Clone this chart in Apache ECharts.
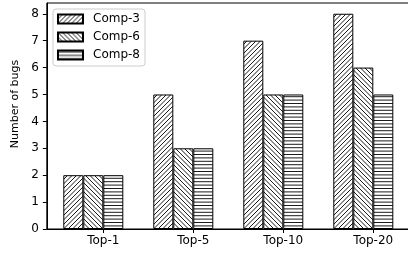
<!DOCTYPE html>
<html>
<head>
<meta charset="utf-8">
<script src="https://cdn.jsdelivr.net/npm/echarts@6/dist/echarts.min.js"></script>
<style>
html,body{margin:0;padding:0;background:#fff;}
#chart{width:408px;height:253px;}
</style>
</head>
<body>
<div id="chart"></div>
<script>
// Data
const categories = ['Top-1', 'Top-5', 'Top-10', 'Top-20'];
const seriesNames = ['Comp-3', 'Comp-6', 'Comp-8'];
const comp3 = [2, 5, 7, 8];
const comp6 = [2, 3, 5, 6];
const comp8 = [2, 3, 5, 5];
const yTicks = [0, 1, 2, 3, 4, 5, 6, 7, 8];

// Hatch patterns
function hatch(kind) {
  const c = document.createElement('canvas');
  const s = kind === 'h' ? 17 : 9;
  c.width = s; c.height = s;
  const g = c.getContext('2d');
  g.fillStyle = '#fff';
  g.fillRect(0, 0, s, s);
  g.strokeStyle = '#000';
  g.lineWidth = 0.9;
  g.beginPath();
  if (kind === 'h') {
    for (let k = 0; k < 5; k++) {
      const y = k * 3.4 + 1.5;
      g.moveTo(0, y); g.lineTo(s, y);
    }
  } else {
    const p = 4.5;
    for (let k = -4; k <= 4; k++) {
      const x0 = k * p;
      if (kind === 'f') { // forward slash /
        g.moveTo(x0, s); g.lineTo(x0 + s, 0);
      } else { // backslash \
        g.moveTo(x0, 0); g.lineTo(x0 + s, s);
      }
    }
  }
  g.stroke();
  return { image: c, repeat: 'repeat' };
}
const patterns = [hatch('f'), hatch('b'), hatch('h')];
const values = [comp3, comp6, comp8];

const font = 'DejaVu Sans';
const chart = echarts.init(document.getElementById('chart'), null, { renderer: 'canvas' });
const tickPos = categories.map((c, i) => i + 1 / 9);

chart.setOption({
  animation: false,
  backgroundColor: '#fff',
  textStyle: { fontFamily: font },
  grid: {
    left: 46.8, top: 3, width: 363, height: 226,
    show: true, borderColor: '#000', borderWidth: 1,
    outerBoundsMode: 'none', containLabel: false
  },
  legend: {
    orient: 'vertical',
    left: 53, top: 9,
    itemWidth: 25, itemHeight: 9, itemGap: 6,
    padding: [4, 5, 5, 4],
    borderColor: '#ccc', borderWidth: 1, borderRadius: 3,
    backgroundColor: 'rgba(255,255,255,0.8)',
    icon: 'rect',
    textStyle: { fontSize: 12, color: '#000', fontFamily: font, padding: [0, 0, 0, 5] },
    data: seriesNames
  },
  xAxis: {
    type: 'value',
    min: -0.5167, max: 3.5167,
    splitLine: { show: false },
    axisLine: { show: true, onZero: true, lineStyle: { color: '#000', width: 1 } },
    axisTick: { show: true, length: 4, lineStyle: { color: '#000' }, customValues: tickPos },
    axisLabel: {
      customValues: tickPos,
      formatter: v => categories[Math.round(v)],
      fontSize: 12, color: '#000', margin: 6, fontFamily: font
    }
  },
  yAxis: {
    type: 'value',
    min: 0, max: 8.4, interval: 1,
    name: 'Number of bugs', nameLocation: 'middle', nameGap: 23,
    nameTextStyle: { fontSize: 11, color: '#000', fontFamily: font, padding: [0, 0, 0, 24] },
    splitLine: { show: false },
    axisLine: { show: true, onZero: false, lineStyle: { color: '#000', width: 1 } },
    axisTick: { show: true, length: 4, lineStyle: { color: '#000' }, customValues: yTicks },
    axisLabel: { customValues: yTicks, fontSize: 12, color: '#000', margin: 8, fontFamily: font }
  },
  series: seriesNames.map((name, si) => ({
    name: name,
    type: 'bar',
    barWidth: 20,
    barGap: '0%',
    data: values[si].map((v, i) => [i, v]),
    itemStyle: { color: patterns[si], borderColor: '#000', borderWidth: 1 }
  }))
});
</script>
</body>
</html>
